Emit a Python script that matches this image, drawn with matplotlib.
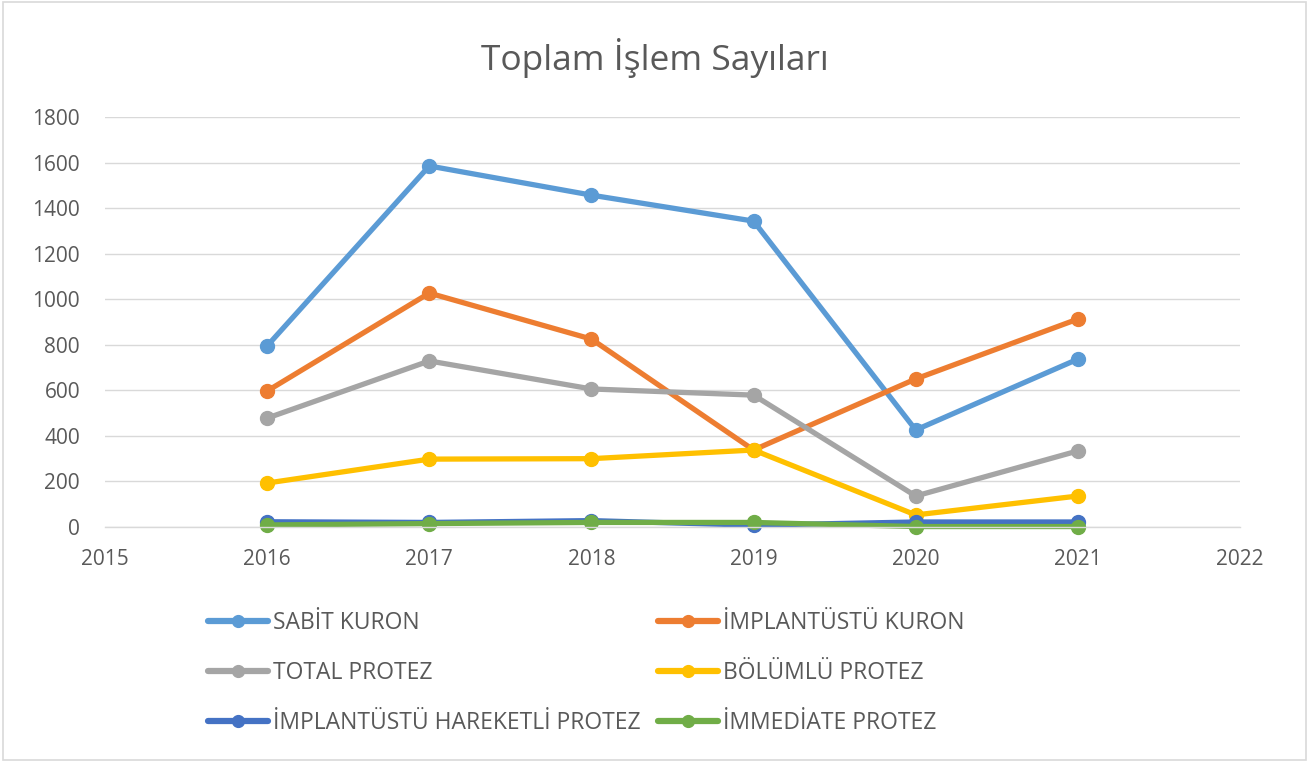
import matplotlib
matplotlib.use("Agg")
import matplotlib.pyplot as plt
from matplotlib.patches import Rectangle

years = [2016, 2017, 2018, 2019, 2020, 2021]
series_names = ["SABİT KURON", "İMPLANTÜSTÜ KURON", "TOTAL PROTEZ",
                "BÖLÜMLÜ PROTEZ", "İMPLANTÜSTÜ HAREKETLİ PROTEZ", "İMMEDİATE PROTEZ"]
sabit_kuron = [795, 1585, 1457, 1343, 426, 737]
implantustu_kuron = [597, 1027, 825, 338, 650, 913]
total_protez = [478, 729, 606, 579, 136, 334]
bolumlu_protez = [193, 298, 300, 338, 53, 136]
implantustu_hareketli = [23, 20, 28, 8, 22, 22]
immediate_protez = [9, 15, 20, 20, 2, 2]
colors = ["#5B9BD5", "#ED7D31", "#A5A5A5", "#FFC000", "#4472C4", "#70AD47"]
yticks = list(range(0, 2000, 200))
xticks = list(range(2015, 2023))

plt.rcParams['font.family'] = ['Open Sans', 'DejaVu Sans']
txt = "#595959"

fig = plt.figure(figsize=(13.09, 7.62), dpi=100)
fig.patches.append(Rectangle((0.002, 0.002), 0.996, 0.996, transform=fig.transFigure,
                             fill=False, edgecolor="#D9D9D9", linewidth=1.2))
ax = fig.add_axes([105/1309, 1-527/762, (1240-105)/1309, (527-117)/762])

data = [sabit_kuron, implantustu_kuron, total_protez, bolumlu_protez,
        implantustu_hareketli, immediate_protez]
handles = []
for name, vals, c in zip(series_names, data, colors):
    h, = ax.plot(years, vals, color=c, lw=3.8, marker="o", ms=10, label=name,
                 solid_capstyle="round", clip_on=False)
    handles.append(h)

ax.set_xlim(2015, 2022)
ax.set_ylim(0, 1800)
ax.set_yticks(yticks)
ax.set_xticks(xticks)
ax.tick_params(axis="both", length=0, labelsize=15, colors=txt)
ax.tick_params(axis="x", pad=16)
ax.tick_params(axis="y", pad=18)
ax.grid(axis="y", color="#D9D9D9", lw=1)
ax.set_axisbelow(True)
for s in ["top", "right", "left"]:
    ax.spines[s].set_visible(False)
ax.spines["bottom"].set_color("#D9D9D9")
ax.spines["bottom"].set_linewidth(1)

fig.text(0.5, 1-58/762, "Toplam İşlem Sayıları", ha="center", va="center",
         fontsize=25.5, color=txt)

leg_kw = dict(frameon=False, fontsize=16.5, labelcolor=txt, handlelength=2.6,
              handletextpad=0.25, labelspacing=1.15, borderpad=0, borderaxespad=0,
              loc="center left", markerscale=0.85)
leg1 = fig.legend([handles[i] for i in (0, 2, 4)], [series_names[i] for i in (0, 2, 4)],
                  bbox_to_anchor=(208/1309, 1-673/762), **leg_kw)
leg2 = fig.legend([handles[i] for i in (1, 3, 5)], [series_names[i] for i in (1, 3, 5)],
                  bbox_to_anchor=(658/1309, 1-673/762), **leg_kw)
for lg in (leg1, leg2):
    for ln in lg.get_lines():
        ln.set_linewidth(4.5)

fig.savefig("out.png", dpi=100)
